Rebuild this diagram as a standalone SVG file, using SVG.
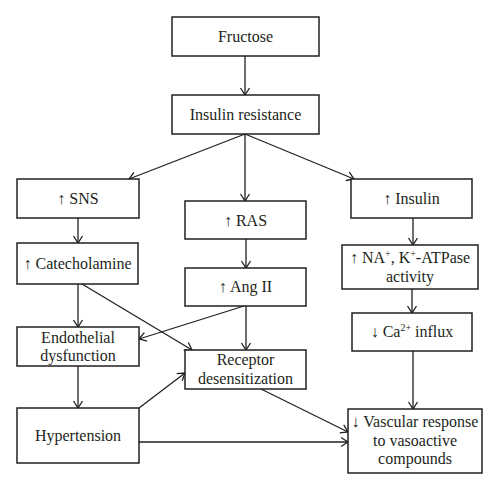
<svg xmlns="http://www.w3.org/2000/svg" width="500" height="491" viewBox="0 0 500 491">
<style>
.box{fill:#fff;stroke:#231f20;stroke-width:1.5}
.t{font-family:"Liberation Serif","Times New Roman",serif;font-size:16px;fill:#231f20;text-anchor:middle}
.sup{font-size:10px}
.c{fill:none;stroke:#231f20;stroke-width:1.3;marker-end:url(#ah)}
</style>
<defs>
<marker id="ah" markerUnits="userSpaceOnUse" markerWidth="12" markerHeight="12" viewBox="0 0 12 12" refX="10" refY="6" orient="auto">
<path d="M3,1.5 L10,6 L3,10.5" fill="none" stroke="#231f20" stroke-width="1.3"/>
</marker>
</defs>
<rect width="500" height="491" fill="#fff"/>
<g id="connectors">
<line class="c" x1="245" y1="56" x2="245" y2="95"/>
<line class="c" x1="245" y1="134" x2="129" y2="179"/>
<line class="c" x1="245" y1="134" x2="245" y2="201"/>
<line class="c" x1="245" y1="134" x2="354" y2="179"/>
<line class="c" x1="78" y1="218" x2="78" y2="243"/>
<line class="c" x1="246" y1="239" x2="246" y2="268"/>
<line class="c" x1="413" y1="218" x2="413" y2="245"/>
<line class="c" x1="78" y1="284" x2="78" y2="327"/>
<line class="c" x1="82" y1="284" x2="192" y2="350"/>
<line class="c" x1="244" y1="306" x2="139" y2="339"/>
<line class="c" x1="246" y1="306" x2="246" y2="350"/>
<line class="c" x1="412" y1="289" x2="412" y2="313"/>
<line class="c" x1="413" y1="351" x2="413" y2="409"/>
<line class="c" x1="78" y1="366" x2="78" y2="408"/>
<line class="c" x1="139" y1="408" x2="185" y2="373"/>
<line class="c" x1="261" y1="389" x2="348" y2="432"/>
<line class="c" x1="139" y1="442" x2="348" y2="442"/>
</g>
<g id="fructose"><rect class="box" x="172" y="17" width="147" height="39"/><text class="t" x="245.5" y="42">Fructose</text></g>
<g id="insulin-resistance"><rect class="box" x="172" y="95" width="147" height="39"/><text class="t" x="245.5" y="120">Insulin resistance</text></g>
<g id="sns"><rect class="box" x="17" y="179" width="122" height="39"/><text class="t" x="78" y="204">↑ SNS</text></g>
<g id="ras"><rect class="box" x="185" y="201" width="121" height="38"/><text class="t" x="245.5" y="226">↑ RAS</text></g>
<g id="insulin"><rect class="box" x="351" y="179" width="121" height="39"/><text class="t" x="411.5" y="204">↑ Insulin</text></g>
<g id="catecholamine"><rect class="box" x="17" y="243" width="121" height="41"/><text class="t" x="77.5" y="269">↑ Catecholamine</text></g>
<g id="atpase"><rect class="box" x="342" y="245" width="136" height="44"/><text class="t" x="410" y="263">↑ NA<tspan class="sup" dy="-6">+</tspan><tspan dy="6">, K</tspan><tspan class="sup" dy="-6">+</tspan><tspan dy="6">-ATPase</tspan></text><text class="t" x="410" y="282">activity</text></g>
<g id="ang2"><rect class="box" x="185" y="268" width="121" height="38"/><text class="t" x="245.5" y="292">↑ Ang II</text></g>
<g id="endothelial"><rect class="box" x="17" y="327" width="122" height="39"/><text class="t" x="78" y="343">Endothelial</text><text class="t" x="78" y="361">dysfunction</text></g>
<g id="ca"><rect class="box" x="352" y="313" width="120" height="38"/><text class="t" x="412" y="337">↓ Ca<tspan class="sup" dy="-6">2+</tspan><tspan dy="6"> influx</tspan></text></g>
<g id="receptor"><rect class="box" x="185" y="350" width="121" height="39"/><text class="t" x="245.5" y="365">Receptor</text><text class="t" x="245.5" y="384">desensitization</text></g>
<g id="hypertension"><rect class="box" x="17" y="408" width="122" height="55"/><text class="t" x="78" y="441">Hypertension</text></g>
<g id="vascular"><rect class="box" x="348" y="409" width="134" height="64"/><text class="t" x="415" y="427">↓ Vascular response</text><text class="t" x="415" y="446">to vasoactive</text><text class="t" x="415" y="464">compounds</text></g>
</svg>
